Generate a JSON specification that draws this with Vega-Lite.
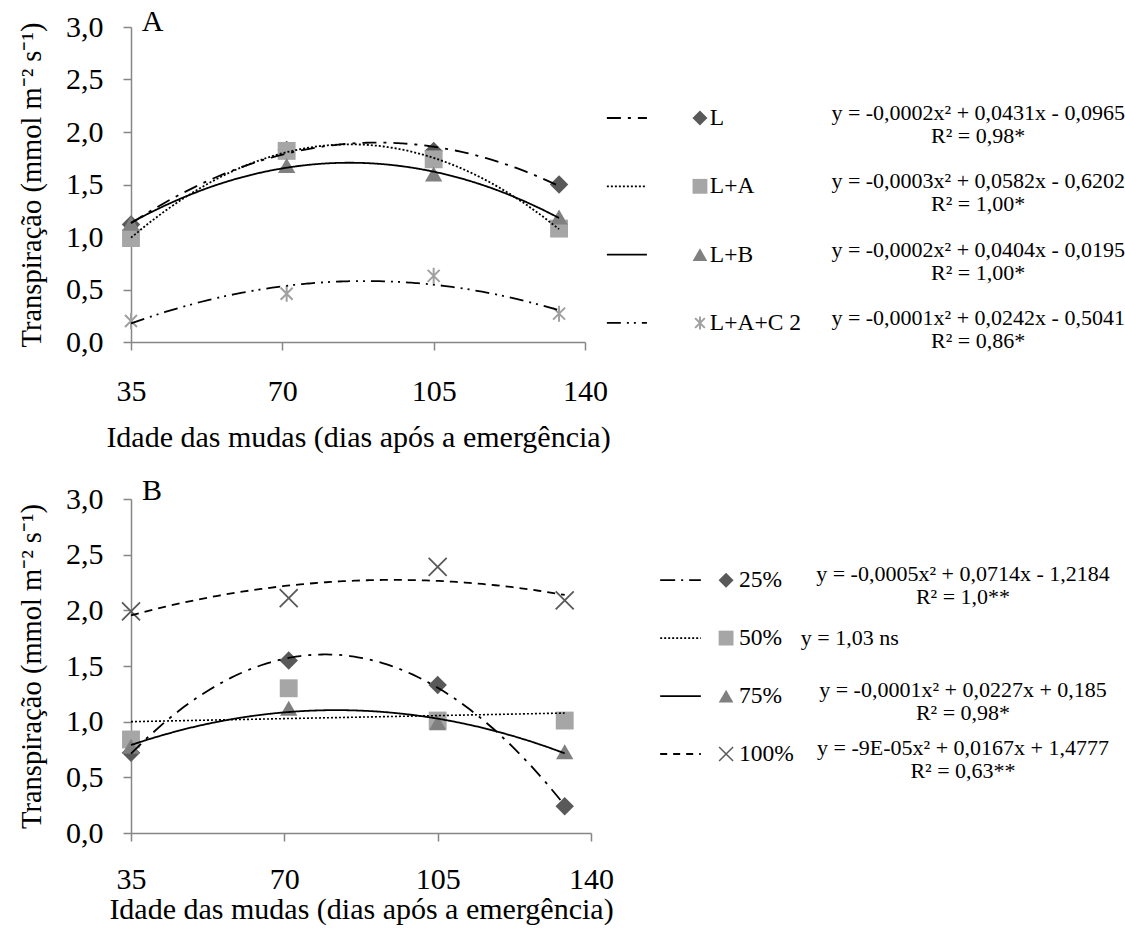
{
  "$schema": "https://vega.github.io/schema/vega-lite/v6.json",
  "background": "white",
  "padding": {"left": 17, "top": 6, "right": 2, "bottom": 2},
  "config": {
    "view": {"stroke": null},
    "font": "Liberation Serif",
    "axis": {
      "domainColor": "#868686", "domainWidth": 1.5, "tickColor": "#868686", "tickWidth": 1.5, "tickSize": 8,
      "labelFont": "Liberation Serif", "labelFontSize": 30, "labelColor": "black",
      "titleFont": "Liberation Serif", "titleFontSize": 30, "titleFontWeight": "normal", "titleColor": "black",
      "grid": false, "labelFlush": false
    }
  },
  "datasets": {
    "ptsA": [
      {"s": "L", "x": 35, "y": 1.12}, {"s": "L", "x": 71, "y": 1.83}, {"s": "L", "x": 105, "y": 1.82}, {"s": "L", "x": 134, "y": 1.50},
      {"s": "L+A", "x": 35, "y": 0.99}, {"s": "L+A", "x": 71, "y": 1.82}, {"s": "L+A", "x": 105, "y": 1.74}, {"s": "L+A", "x": 134, "y": 1.08},
      {"s": "L+B", "x": 35, "y": 1.13}, {"s": "L+B", "x": 71, "y": 1.68}, {"s": "L+B", "x": 105, "y": 1.60}, {"s": "L+B", "x": 134, "y": 1.19},
      {"s": "L+A+C 2", "x": 35, "y": 0.20}, {"s": "L+A+C 2", "x": 71, "y": 0.46}, {"s": "L+A+C 2", "x": 105, "y": 0.63}, {"s": "L+A+C 2", "x": 134, "y": 0.27}
    ],
    "ptsB": [
      {"s": "25%", "x": 35, "y": 0.72}, {"s": "25%", "x": 71, "y": 1.55}, {"s": "25%", "x": 105, "y": 1.33}, {"s": "25%", "x": 134, "y": 0.24},
      {"s": "50%", "x": 35, "y": 0.84}, {"s": "50%", "x": 71, "y": 1.30}, {"s": "50%", "x": 105, "y": 1.01}, {"s": "50%", "x": 134, "y": 1.01},
      {"s": "75%", "x": 35, "y": 0.78}, {"s": "75%", "x": 71, "y": 1.12}, {"s": "75%", "x": 105, "y": 0.99}, {"s": "75%", "x": 134, "y": 0.73},
      {"s": "100%", "x": 35, "y": 1.99}, {"s": "100%", "x": 71, "y": 2.11}, {"s": "100%", "x": 105, "y": 2.39}, {"s": "100%", "x": 134, "y": 2.09}
    ],
    "legA": [
      {"s": "L", "eq1": "y = -0,0002x² + 0,0431x - 0,0965", "eq2": "R² = 0,98*"},
      {"s": "L+A", "eq1": "y = -0,0003x² + 0,0582x - 0,6202", "eq2": "R² = 1,00*"},
      {"s": "L+B", "eq1": "y = -0,0002x² + 0,0404x - 0,0195", "eq2": "R² = 1,00*"},
      {"s": "L+A+C 2", "eq1": "y = -0,0001x² + 0,0242x - 0,5041", "eq2": "R² = 0,86*"}
    ],
    "legB": [
      {"s": "25%", "eq1": "y = -0,0005x² + 0,0714x - 1,2184", "eq2": "R² = 1,0**", "eqL": ""},
      {"s": "50%", "eq1": "", "eq2": "", "eqL": "y = 1,03 ns"},
      {"s": "75%", "eq1": "y = -0,0001x² + 0,0227x + 0,185", "eq2": "R² = 0,98*", "eqL": ""},
      {"s": "100%", "eq1": "y = -9E-05x² + 0,0167x + 1,4777", "eq2": "R² = 0,63**", "eqL": ""}
    ]
  },
  "spacing": 24,
  "resolve": {"scale": {"x": "independent", "y": "independent", "color": "independent", "shape": "independent", "size": "independent", "strokeDash": "independent"}},
  "vconcat": [
    {
      "spacing": 12,
      "bounds": "flush",
      "resolve": {"scale": {"x": "independent", "y": "independent", "color": "independent", "shape": "independent", "size": "independent", "strokeDash": "independent"}},
      "hconcat": [
        {
          "width": 454, "height": 315,
          "data": {"name": "ptsA"},
          "encoding": {
            "x": {"field": "x", "type": "quantitative", "scale": {"domain": [35, 140], "nice": false, "zero": false},
                  "axis": {"values": [35, 70, 105, 140], "title": "Idade das mudas (dias após a emergência)", "labelPadding": 26, "titlePadding": 16}},
            "y": {"field": "y", "type": "quantitative", "scale": {"domain": [0, 3], "nice": false},
                  "axis": {"values": [0, 0.5, 1, 1.5, 2, 2.5, 3], "labelExpr": "replace(format(datum.value, '.1f'), '.', ',')", "title": "Transpiração (mmol m⁻² s⁻¹)", "titleFontSize": 28.5, "labelPadding": 20, "titlePadding": 19}}
          },
          "layer": [
            {
              "transform": [{"filter": "datum.s !== 'L+A+C 2'"}],
              "mark": {"type": "point", "filled": true, "opacity": 1},
              "encoding": {
                "shape": {"field": "s", "type": "nominal", "scale": {"domain": ["L", "L+A", "L+B"], "range": ["diamond", "square", "triangle-up"]}, "legend": null},
                "color": {"field": "s", "type": "nominal", "scale": {"domain": ["L", "L+A", "L+B"], "range": ["#595959", "#A6A6A6", "#808080"]}, "legend": null},
                "size": {"field": "s", "type": "ordinal", "scale": {"domain": ["L", "L+A", "L+B"], "range": [340, 300, 360]}, "legend": null}
              }
            },
            {
              "transform": [{"filter": "datum.s === 'L+A+C 2'"}],
              "mark": {"type": "point", "filled": false, "opacity": 1, "color": "#A0A0A0", "strokeWidth": 2, "size": 256,
                       "shape": "M-0.75,-0.75L0.75,0.75M-0.75,0.75L0.75,-0.75M0,-1L0,1"}
            },
            {
              "transform": [{"regression": "y", "on": "x", "groupby": ["s"], "method": "poly", "order": 2, "extent": [35, 134]}],
              "mark": {"type": "line", "color": "black", "strokeWidth": 1.8},
              "encoding": {
                "strokeDash": {"field": "s", "type": "nominal", "scale": {"domain": ["L", "L+A", "L+B", "L+A+C 2"], "range": [[14, 7, 3, 7], [2, 2], [1, 0], [14, 6, 2, 5, 2, 6]]}, "legend": null}
              }
            },
            {
              "transform": [{"filter": "datum.s === 'L' && datum.x === 35"}],
              "mark": {"type": "text", "text": "A", "align": "left", "baseline": "middle", "fontSize": 30, "color": "black"},
              "encoding": {"x": {"datum": 37.5}, "y": {"datum": 3.05}}
            }
          ]
        },
        {
          "width": 520, "height": 315,
          "data": {"name": "legA"},
          "encoding": {
            "y": {"field": "s", "type": "nominal", "scale": {"type": "point", "domain": ["L", "L+A", "L+B", "L+A+C 2"], "padding": 0.805, "align": 0.827}, "axis": null}
          },
          "layer": [
            {
              "mark": {"type": "rule", "color": "black", "strokeWidth": 1.8},
              "encoding": {
                "x": {"datum": 1.9, "type": "quantitative", "scale": {"domain": [0, 100], "nice": false, "zero": false}, "axis": null},
                "x2": {"datum": 9.6},
                "strokeDash": {"field": "s", "type": "nominal", "scale": {"domain": ["L", "L+A", "L+B", "L+A+C 2"], "range": [[14, 7, 3, 7], [2, 2], [1, 0], [14, 6, 2, 5, 2, 6]]}, "legend": null}
              }
            },
            {
              "transform": [{"filter": "datum.s !== 'L+A+C 2'"}],
              "mark": {"type": "point", "filled": true, "opacity": 1},
              "encoding": {
                "x": {"datum": 19.8},
                "shape": {"field": "s", "type": "nominal", "scale": {"domain": ["L", "L+A", "L+B"], "range": ["diamond", "square", "triangle-up"]}, "legend": null},
                "color": {"field": "s", "type": "nominal", "scale": {"domain": ["L", "L+A", "L+B"], "range": ["#595959", "#A6A6A6", "#808080"]}, "legend": null},
                "size": {"field": "s", "type": "ordinal", "scale": {"domain": ["L", "L+A", "L+B"], "range": [225, 216, 225]}, "legend": null}
              }
            },
            {
              "transform": [{"filter": "datum.s === 'L+A+C 2'"}],
              "mark": {"type": "point", "filled": false, "opacity": 1, "color": "#A0A0A0", "strokeWidth": 2, "size": 169,
                       "shape": "M-0.75,-0.75L0.75,0.75M-0.75,0.75L0.75,-0.75M0,-1L0,1"},
              "encoding": {"x": {"datum": 19.8}}
            },
            {
              "mark": {"type": "text", "align": "left", "baseline": "middle", "fontSize": 23.5, "color": "black"},
              "encoding": {"x": {"datum": 21.7}, "text": {"field": "s"}}
            },
            {
              "mark": {"type": "text", "align": "center", "baseline": "middle", "fontSize": 22, "color": "black", "dy": -5},
              "encoding": {"x": {"datum": 73.3}, "text": {"field": "eq1"}}
            },
            {
              "mark": {"type": "text", "align": "center", "baseline": "middle", "fontSize": 22, "color": "black", "dy": 18},
              "encoding": {"x": {"datum": 73.3}, "text": {"field": "eq2"}}
            }
          ]
        }
      ]
    },
    {
      "spacing": 12,
      "bounds": "flush",
      "resolve": {"scale": {"x": "independent", "y": "independent", "color": "independent", "shape": "independent", "size": "independent", "strokeDash": "independent"}},
      "hconcat": [
        {
          "width": 460, "height": 334,
          "data": {"name": "ptsB"},
          "encoding": {
            "x": {"field": "x", "type": "quantitative", "scale": {"domain": [35, 140], "nice": false, "zero": false},
                  "axis": {"values": [35, 70, 105, 140], "title": "Idade das mudas (dias após a emergência)", "labelPadding": 23, "titlePadding": 0}},
            "y": {"field": "y", "type": "quantitative", "scale": {"domain": [0, 3], "nice": false},
                  "axis": {"values": [0, 0.5, 1, 1.5, 2, 2.5, 3], "labelExpr": "replace(format(datum.value, '.1f'), '.', ',')", "title": "Transpiração (mmol m⁻² s⁻¹)", "titleFontSize": 28.5, "labelPadding": 20, "titlePadding": 19}}
          },
          "layer": [
            {
              "transform": [{"filter": "datum.s !== '100%'"}],
              "mark": {"type": "point", "filled": true, "opacity": 1},
              "encoding": {
                "shape": {"field": "s", "type": "nominal", "scale": {"domain": ["25%", "50%", "75%"], "range": ["diamond", "square", "triangle-up"]}, "legend": null},
                "color": {"field": "s", "type": "nominal", "scale": {"domain": ["25%", "50%", "75%"], "range": ["#595959", "#A6A6A6", "#808080"]}, "legend": null},
                "size": {"field": "s", "type": "ordinal", "scale": {"domain": ["25%", "50%", "75%"], "range": [340, 300, 360]}, "legend": null}
              }
            },
            {
              "transform": [{"filter": "datum.s === '100%'"}],
              "mark": {"type": "point", "filled": false, "opacity": 1, "color": "#595959", "strokeWidth": 1.8, "size": 324,
                       "shape": "M-1,-1L1,1M-1,1L1,-1"}
            },
            {
              "transform": [{"filter": "datum.s !== '50%'"}, {"regression": "y", "on": "x", "groupby": ["s"], "method": "poly", "order": 2, "extent": [35, 134]}],
              "mark": {"type": "line", "color": "black", "strokeWidth": 1.8},
              "encoding": {
                "strokeDash": {"field": "s", "type": "nominal", "scale": {"domain": ["25%", "75%", "100%"], "range": [[14, 7, 3, 7], [1, 0], [8, 6]]}, "legend": null}
              }
            },
            {
              "transform": [{"filter": "datum.s === '50%'"}, {"regression": "y", "on": "x", "method": "linear", "extent": [35, 134]}],
              "mark": {"type": "line", "color": "black", "strokeWidth": 1.6, "strokeDash": [2, 2]}
            },
            {
              "transform": [{"filter": "datum.s === '25%' && datum.x === 35"}],
              "mark": {"type": "text", "text": "B", "align": "left", "baseline": "middle", "fontSize": 30, "color": "black"},
              "encoding": {"x": {"datum": 37.5}, "y": {"datum": 3.07}}
            }
          ]
        },
        {
          "width": 515, "height": 255,
          "data": {"name": "legB"},
          "encoding": {
            "y": {"field": "s", "type": "nominal", "scale": {"type": "point", "domain": ["25%", "50%", "75%", "100%"], "padding": 0.7, "align": 1}, "axis": null}
          },
          "layer": [
            {
              "mark": {"type": "rule", "color": "black", "strokeWidth": 1.8},
              "encoding": {
                "x": {"datum": 11.1, "type": "quantitative", "scale": {"domain": [0, 100], "nice": false, "zero": false}, "axis": null},
                "x2": {"datum": 19.0},
                "strokeDash": {"field": "s", "type": "nominal", "scale": {"domain": ["25%", "50%", "75%", "100%"], "range": [[15, 6, 2, 6], [2, 2], [1, 0], [7, 6]]}, "legend": null}
              }
            },
            {
              "transform": [{"filter": "datum.s !== '100%'"}],
              "mark": {"type": "point", "filled": true, "opacity": 1},
              "encoding": {
                "x": {"datum": 23.9},
                "shape": {"field": "s", "type": "nominal", "scale": {"domain": ["25%", "50%", "75%"], "range": ["diamond", "square", "triangle-up"]}, "legend": null},
                "color": {"field": "s", "type": "nominal", "scale": {"domain": ["25%", "50%", "75%"], "range": ["#595959", "#A6A6A6", "#808080"]}, "legend": null},
                "size": {"field": "s", "type": "ordinal", "scale": {"domain": ["25%", "50%", "75%"], "range": [225, 216, 225]}, "legend": null}
              }
            },
            {
              "transform": [{"filter": "datum.s === '100%'"}],
              "mark": {"type": "point", "filled": false, "opacity": 1, "color": "#595959", "strokeWidth": 1.5, "size": 196,
                       "shape": "M-1,-1L1,1M-1,1L1,-1"},
              "encoding": {"x": {"datum": 23.9}}
            },
            {
              "mark": {"type": "text", "align": "left", "baseline": "middle", "fontSize": 23.5, "color": "black"},
              "encoding": {"x": {"datum": 26.4}, "text": {"field": "s"}}
            },
            {
              "mark": {"type": "text", "align": "center", "baseline": "middle", "fontSize": 22, "color": "black", "dy": -6},
              "encoding": {"x": {"datum": 69.9}, "text": {"field": "eq1"}}
            },
            {
              "mark": {"type": "text", "align": "center", "baseline": "middle", "fontSize": 22, "color": "black", "dy": 17},
              "encoding": {"x": {"datum": 69.9}, "text": {"field": "eq2"}}
            },
            {
              "mark": {"type": "text", "align": "left", "baseline": "middle", "fontSize": 22, "color": "black"},
              "encoding": {"x": {"datum": 38.4}, "text": {"field": "eqL"}}
            }
          ]
        }
      ]
    }
  ]
}
